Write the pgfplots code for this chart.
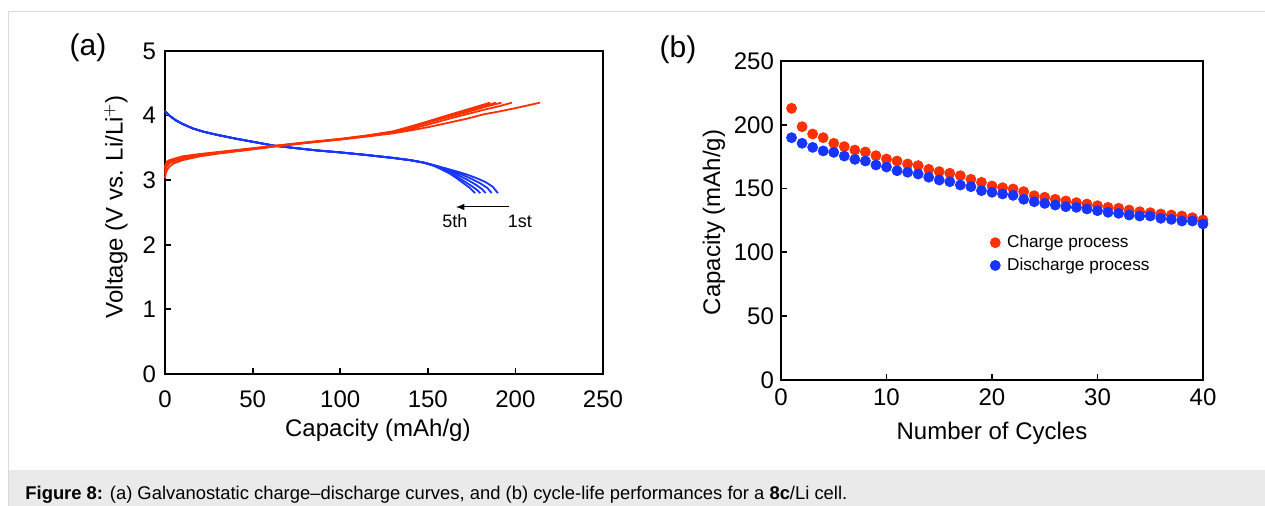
\documentclass[border=0pt]{standalone}
\usepackage{fontspec}
\setmainfont{Liberation Sans}
\usepackage{pgfplots}
\pgfplotsset{compat=1.18}
\definecolor{cred}{RGB}{255,48,0}
\definecolor{cblue}{RGB}{24,52,255}
\definecolor{framegray}{RGB}{218,218,218}
\definecolor{capbg}{RGB}{234,234,234}
\pgfplotsset{
  common/.style={
    scale only axis,
    axis line style={line width=0.9pt},
    every tick/.style={line width=0.9pt,black},
    tick align=inside,
    tick pos=left,
    major tick length=3pt,
    ticklabel style={font=\fontsize{12}{14}\selectfont},
    label style={font=\fontsize{12}{14}\selectfont},
    /pgf/number format/assume math mode=true,
  }
}
\begin{document}
\begin{tikzpicture}
\useasboundingbox (0pt,0pt) rectangle (632.5pt,253pt);
\fill[capbg] (4.5pt,0pt) rectangle (632.5pt,18pt);
\draw[framegray,line width=0.6pt] (4.25pt,0pt) -- (4.25pt,247.25pt) -- (632.5pt,247.25pt);

% ---------------- panel (a)
\begin{axis}[common,
  at={(82.5pt,66pt)}, anchor=south west,
  width=219pt, height=161.5pt,
  xmin=0, xmax=250, ymin=0, ymax=5,
  xtick={0,50,...,250}, ytick={0,1,...,5},
  xticklabel style={yshift=-5pt},
  yticklabel style={xshift=-1pt},
  xlabel={Capacity (mAh/g)},
  ylabel={Voltage (V vs. Li/Li$^{\mathsf{+}}$)},
  xlabel style={at={(axis description cs:0.486,-0.195)},anchor=base},
  ylabel style={at={(axis description cs:-0.112,0.518)},anchor=center},
  clip=false,
]
% discharge curves (blue), cycles 1-5
\addplot[cblue,line width=0.9pt] coordinates {(0,4.07)(1,4.04)(3,3.99)(6,3.93)(10,3.87)(16,3.80)(22,3.75)(30,3.70)(40,3.645)(50,3.595)(62,3.535)(75,3.495)(87,3.46)(100,3.43)(115,3.39)(130,3.345)(140,3.31)(148,3.27)(155,3.22)(160,3.185)(166,3.14)(172,3.09)(178,3.03)(183,2.97)(187,2.90)(190,2.80)};
\addplot[cblue,line width=0.9pt] coordinates {(0,4.07)(1,4.04)(3,3.99)(6,3.93)(10,3.87)(16,3.80)(22,3.75)(30,3.70)(40,3.645)(50,3.595)(62,3.535)(75,3.495)(87,3.46)(100,3.43)(115,3.39)(130,3.345)(140,3.31)(148,3.27)(155,3.22)(160,3.18)(165,3.13)(170,3.08)(175,3.02)(180,2.95)(184,2.88)(186.5,2.80)};
\addplot[cblue,line width=0.9pt] coordinates {(0,4.07)(1,4.04)(3,3.99)(6,3.93)(10,3.87)(16,3.80)(22,3.75)(30,3.70)(40,3.645)(50,3.595)(62,3.535)(75,3.495)(87,3.46)(100,3.43)(115,3.39)(130,3.345)(140,3.31)(148,3.27)(155,3.22)(160,3.17)(164,3.13)(168,3.07)(173,3.00)(178,2.92)(181,2.86)(183,2.80)};
\addplot[cblue,line width=0.9pt] coordinates {(0,4.07)(1,4.04)(3,3.99)(6,3.93)(10,3.87)(16,3.80)(22,3.75)(30,3.70)(40,3.645)(50,3.595)(62,3.535)(75,3.495)(87,3.46)(100,3.43)(115,3.39)(130,3.345)(140,3.31)(148,3.27)(155,3.215)(159,3.17)(163,3.12)(167,3.05)(171,2.98)(175,2.91)(178,2.85)(180,2.80)};
\addplot[cblue,line width=0.9pt] coordinates {(0,4.07)(1,4.04)(3,3.99)(6,3.93)(10,3.87)(16,3.80)(22,3.75)(30,3.70)(40,3.645)(50,3.595)(62,3.535)(75,3.495)(87,3.46)(100,3.43)(115,3.39)(130,3.345)(140,3.31)(148,3.27)(154,3.215)(158,3.165)(162,3.11)(166,3.04)(170,2.96)(174,2.88)(177,2.80)};
% charge curves (red), cycles 1-5
\addplot[cred,line width=0.9pt] coordinates {(0,3.03)(0.4,3.10)(1.2,3.16)(2.5,3.21)(5,3.26)(10,3.31)(20,3.37)(30,3.41)(45,3.46)(62,3.52)(80,3.575)(100,3.63)(115,3.675)(130,3.725)(140,3.77)(150,3.82)(162,3.89)(172,3.95)(182,4.02)(190,4.06)(200,4.115)(214,4.20)};
\addplot[cred,line width=0.9pt] coordinates {(0,3.10)(0.4,3.17)(1.2,3.22)(2.5,3.26)(5,3.29)(10,3.33)(20,3.385)(30,3.42)(45,3.465)(62,3.52)(80,3.575)(100,3.63)(115,3.68)(130,3.735)(140,3.79)(150,3.86)(162,3.95)(172,4.02)(182,4.09)(190,4.14)(198,4.20)};
\addplot[cred,line width=0.9pt] coordinates {(0,3.15)(0.4,3.21)(1.2,3.25)(2.5,3.28)(5,3.31)(10,3.35)(20,3.39)(30,3.425)(45,3.47)(62,3.525)(80,3.58)(100,3.635)(115,3.685)(130,3.745)(140,3.81)(150,3.89)(162,3.98)(172,4.05)(182,4.13)(192,4.20)};
\addplot[cred,line width=0.9pt] coordinates {(0,3.18)(0.4,3.23)(1.2,3.27)(2.5,3.30)(5,3.32)(10,3.36)(20,3.40)(30,3.43)(45,3.475)(62,3.53)(80,3.58)(100,3.635)(115,3.69)(130,3.75)(140,3.82)(150,3.90)(162,3.995)(172,4.075)(182,4.15)(189,4.20)};
\addplot[cred,line width=0.9pt] coordinates {(0,3.20)(0.4,3.25)(1.2,3.29)(2.5,3.31)(5,3.33)(10,3.37)(20,3.405)(30,3.435)(45,3.48)(62,3.53)(80,3.585)(100,3.64)(115,3.69)(130,3.755)(140,3.83)(150,3.91)(162,4.01)(172,4.09)(180,4.155)(185.5,4.20)};
\draw[-latex,line width=0.5pt] (axis cs:196.3,2.585) -- (axis cs:166,2.585);
\node[anchor=base,font=\fontsize{9}{11}\selectfont] at (axis cs:165.5,2.26) {5th};
\node[anchor=base,font=\fontsize{9}{11}\selectfont] at (axis cs:202.6,2.26) {1st};
\end{axis}
\node[font=\fontsize{15}{17}\selectfont] at (44pt,229pt) {(a)};

% ---------------- panel (b)
\begin{axis}[common,
  at={(390.5pt,63pt)}, anchor=south west,
  width=211pt, height=159.5pt,
  xmin=0, xmax=40, ymin=0, ymax=250,
  xtick={0,10,...,40}, ytick={0,50,...,250},
  xticklabel style={yshift=-1pt},
  xlabel={Number of Cycles},
  ylabel={Capacity (mAh/g)},
  xlabel style={at={(axis description cs:0.5,-0.188)},anchor=base},
  ylabel style={at={(axis description cs:-0.159,0.494)},anchor=center},
  clip=false,
  legend style={at={(axis cs:19.8,117.1)},anchor=north west,draw=none,fill=none,
    font=\fontsize{8.6}{10}\selectfont,row sep=-0.35pt,inner sep=0pt},
  legend cell align=left,
  legend image code/.code={\draw[#1] plot coordinates {(0.1cm,0cm)};\path (0.23cm,0cm);},
]
\addplot[only marks,mark=*,mark size=2.5pt,color=cred,mark options={draw=none,fill=cred}] coordinates {
(1,212.9)(2,198.5)(3,192.8)(4,189.9)(5,185.5)(6,182.9)(7,180.2)(8,178.7)(9,175.8)(10,173.2)
(11,171.6)(12,169.3)(13,168.0)(14,165.1)(15,163.3)(16,162.0)(17,160.1)(18,157.3)(19,154.9)(20,152.0)
(21,150.7)(22,149.7)(23,147.6)(24,144.4)(25,143.2)(26,141.6)(27,140.3)(28,139.0)(29,137.9)(30,136.6)
(31,135.3)(32,134.6)(33,133.2)(34,131.9)(35,131.1)(36,130.1)(37,129.3)(38,128.5)(39,127.2)(40,125.4)};
\addlegendentry{Charge process}
\addplot[only marks,mark=*,mark size=2.5pt,color=cblue,mark options={draw=none,fill=cblue}] coordinates {
(1,189.9)(2,185.5)(3,182.3)(4,179.5)(5,178.4)(6,175.5)(7,172.9)(8,171.6)(9,168.5)(10,166.9)
(11,164.0)(12,162.8)(13,161.4)(14,158.9)(15,156.7)(16,155.4)(17,152.8)(18,151.5)(19,148.4)(20,147.1)
(21,145.8)(22,144.7)(23,141.6)(24,139.7)(25,138.4)(26,137.1)(27,135.8)(28,135.3)(29,134.0)(30,132.7)
(31,131.4)(32,130.6)(33,129.3)(34,128.5)(35,128.5)(36,126.7)(37,125.9)(38,124.6)(39,124.6)(40,122.3)};
\addlegendentry{Discharge process}
\end{axis}
\node[font=\fontsize{15}{17}\selectfont] at (339pt,228pt) {(b)};

% caption
\node[anchor=base west,inner sep=0pt,font=\fontsize{9.2}{11}\selectfont] at (12.5pt,3pt)
  {\textbf{Figure 8:} (a) Galvanostatic charge–discharge curves, and (b) cycle-life performances for a \textbf{8c}/Li cell.};
\end{tikzpicture}
\end{document}
